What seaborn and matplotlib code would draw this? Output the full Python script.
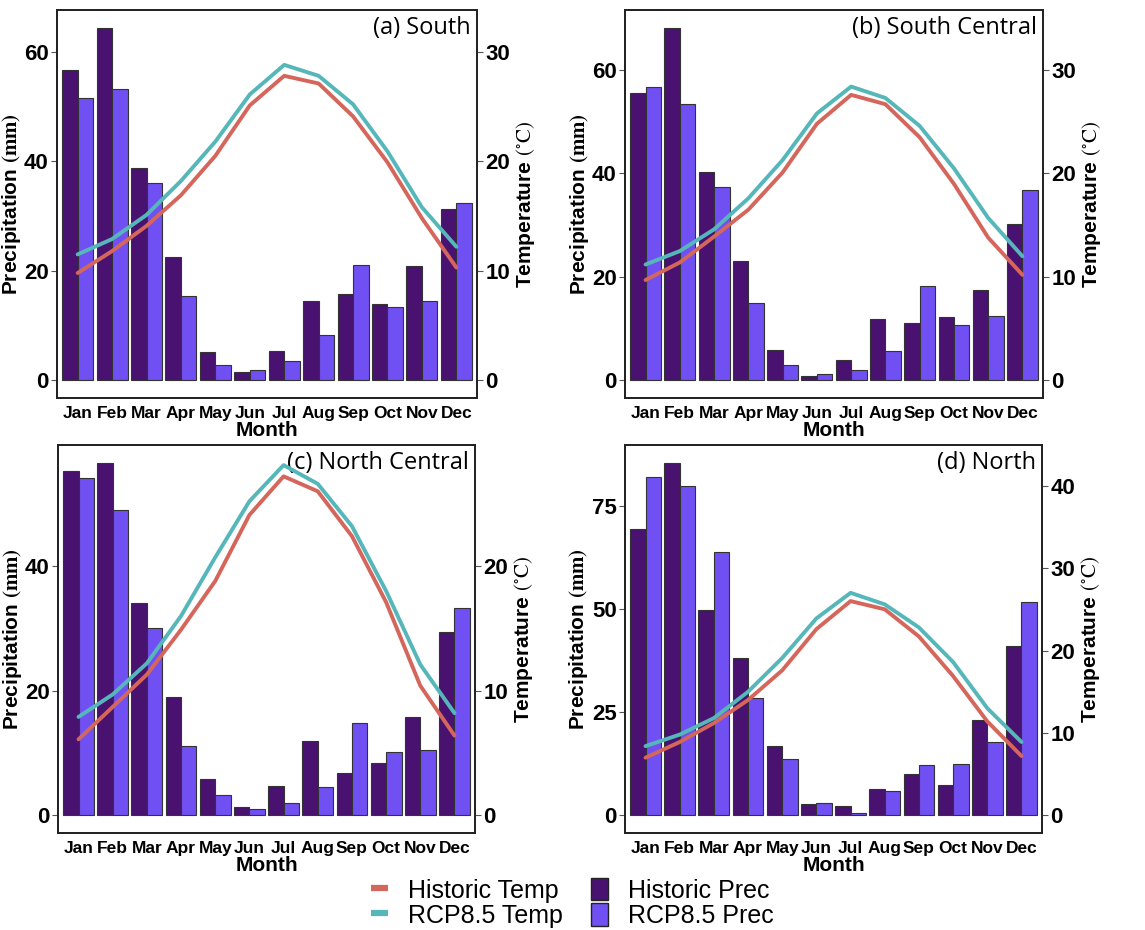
import numpy as np
import pandas as pd
import matplotlib
matplotlib.use("Agg")
import matplotlib.pyplot as plt
import seaborn as sns
from matplotlib.ticker import MultipleLocator
from matplotlib.lines import Line2D
from matplotlib.patches import Patch

# Data
months = ['Jan', 'Feb', 'Mar', 'Apr', 'May', 'Jun', 'Jul', 'Aug', 'Sep', 'Oct', 'Nov', 'Dec']
panel_titles = ['(a) South', '(b) South Central', '(c) North Central', '(d) North']

south_hist_prec = [56.7, 64.4, 38.7, 22.5, 5.15, 1.45, 5.45, 14.4, 15.8, 13.9, 20.8, 31.2]
south_rcp_prec = [51.6, 53.2, 36.1, 15.4, 2.85, 1.95, 3.6, 8.2, 21.0, 13.4, 14.5, 32.4]
south_hist_temp = [9.8, 11.8, 14.1, 16.9, 20.5, 25.1, 27.8, 27.1, 24.1, 19.9, 14.8, 10.3]
south_rcp_temp = [11.5, 12.9, 15.1, 18.2, 21.8, 26.1, 28.8, 27.8, 25.2, 20.9, 15.8, 12.2]

scentral_hist_prec = [55.5, 68.2, 40.3, 23.1, 5.9, 0.9, 4.0, 11.9, 11.1, 12.3, 17.5, 30.2]
scentral_rcp_prec = [56.7, 53.5, 37.4, 15.0, 3.0, 1.15, 2.0, 5.7, 18.3, 10.7, 12.5, 36.8]
scentral_hist_temp = [9.7, 11.4, 13.9, 16.5, 20.1, 24.8, 27.6, 26.7, 23.5, 19.0, 13.8, 10.2]
scentral_rcp_temp = [11.2, 12.5, 14.6, 17.6, 21.3, 25.8, 28.4, 27.3, 24.6, 20.5, 15.7, 12.0]

ncentral_hist_prec = [55.3, 56.6, 34.1, 19.0, 5.9, 1.3, 4.65, 12.0, 6.85, 8.45, 15.8, 29.4]
ncentral_rcp_prec = [54.2, 49.0, 30.1, 11.2, 3.3, 1.1, 2.0, 4.6, 14.8, 10.2, 10.5, 33.2]
ncentral_hist_temp = [6.1, 8.7, 11.3, 14.9, 18.8, 24.1, 27.2, 26.0, 22.4, 17.1, 10.4, 6.4]
ncentral_rcp_temp = [7.9, 9.7, 12.2, 16.0, 20.7, 25.2, 28.1, 26.6, 23.2, 18.0, 12.1, 8.2]

north_hist_prec = [69.4, 85.6, 49.9, 38.1, 16.8, 2.7, 2.35, 6.4, 10.1, 7.4, 23.2, 41.1]
north_rcp_prec = [82.0, 80.0, 64.0, 28.5, 13.6, 2.9, 0.65, 5.8, 12.2, 12.4, 17.8, 51.8]
north_hist_temp = [7.0, 8.9, 11.2, 14.0, 17.6, 22.6, 26.0, 25.0, 21.7, 16.9, 11.4, 7.2]
north_rcp_temp = [8.4, 9.8, 11.8, 15.0, 19.1, 23.9, 27.0, 25.6, 22.8, 18.6, 13.0, 8.9]

prec_steps = [20, 20, 20, 25]
temp_steps = [10, 10, 10, 10]

regions = [
    (south_hist_prec, south_rcp_prec, south_hist_temp, south_rcp_temp),
    (scentral_hist_prec, scentral_rcp_prec, scentral_hist_temp, scentral_rcp_temp),
    (ncentral_hist_prec, ncentral_rcp_prec, ncentral_hist_temp, ncentral_rcp_temp),
    (north_hist_prec, north_rcp_prec, north_hist_temp, north_rcp_temp),
]

# temperature is drawn on a secondary axis scaled as precip = 2 * temp
temp_scale = 2.0

HIST_BAR = '#4A1270'
RCP_BAR = '#7050F2'
HIST_LINE = '#D4665C'
RCP_LINE = '#55B7BA'

sns.set_style("white")
plt.rcParams['font.family'] = ['Liberation Sans', 'DejaVu Sans']
plt.rcParams['mathtext.fontset'] = 'stix'
plt.rcParams['text.color'] = 'black'
plt.rcParams['axes.labelcolor'] = 'black'
plt.rcParams['xtick.color'] = 'black'
plt.rcParams['ytick.color'] = 'black'

fig = plt.figure(figsize=(11.45, 9.3), dpi=100)

# axes rectangles in pixels: left, top, right, bottom
boxes = [(57, 10, 477, 398), (625, 10, 1043, 398),
         (58, 445, 475, 833), (625, 445, 1042, 833)]
W, H = 1145, 930

for i, (hp, rp, ht, rt) in enumerate(regions):
    l, t, r, b = boxes[i]
    ax = fig.add_axes([l / W, 1 - b / H, (r - l) / W, (b - t) / H])

    df = pd.DataFrame({
        'Month': months * 2,
        'Prec': hp + rp,
        'Scenario': ['Historic'] * 12 + ['RCP8.5'] * 12,
    })
    sns.barplot(data=df, x='Month', y='Prec', hue='Scenario', order=months,
                palette={'Historic': HIST_BAR, 'RCP8.5': RCP_BAR},
                width=0.9, saturation=1, edgecolor='#333333', linewidth=0.8,
                legend=False, ax=ax)

    top = max(max(hp), max(rp), temp_scale * max(ht), temp_scale * max(rt))
    ylo, yhi = -0.05 * top, 1.05 * top
    ax.set_ylim(ylo, yhi)
    ax.set_xlim(-0.6, 11.6)
    ax.yaxis.set_major_locator(MultipleLocator(prec_steps[i]))

    ax2 = ax.twinx()
    tdf = pd.DataFrame({
        'x': list(range(12)) * 2,
        'Temp': ht + rt,
        'Scenario': ['Historic'] * 12 + ['RCP8.5'] * 12,
    })
    sns.lineplot(data=tdf, x='x', y='Temp', hue='Scenario',
                 palette={'Historic': HIST_LINE, 'RCP8.5': RCP_LINE},
                 linewidth=2.8, legend=False, ax=ax2)
    ax2.set_ylim(ylo / temp_scale, yhi / temp_scale)
    ax2.set_xlim(-0.6, 11.6)
    ax2.yaxis.set_major_locator(MultipleLocator(temp_steps[i]))

    ax.set_xlabel('Month', fontsize=15, fontweight='bold', labelpad=0)
    ax.set_ylabel(r'Precipitation $\mathbf{(mm)}$', fontsize=15, fontweight='bold', labelpad=1)
    ax2.set_ylabel(r'Temperature $(^{\circ}\mathrm{C})$', fontsize=15, fontweight='bold', labelpad=3)

    for a in (ax, ax2):
        for s in a.spines.values():
            s.set_color('#222222')
            s.set_linewidth(1.3)
        a.tick_params(axis='both', direction='out', length=4, width=0.8,
                      color='#555555', labelcolor='black')
    ax.tick_params(axis='y', labelsize=16, pad=2)
    ax.tick_params(axis='x', labelsize=12.5, pad=2)
    ax2.tick_params(axis='y', labelsize=16, pad=2)
    for lab in ax.get_xticklabels() + ax.get_yticklabels() + ax2.get_yticklabels():
        lab.set_fontweight('bold')

    ax.text(0.985, 0.985, panel_titles[i], transform=ax.transAxes, ha='right', va='top',
            fontsize=17, color='black', family=['Open Sans', 'DejaVu Sans'])

handles = [
    Line2D([0], [0], color=HIST_LINE, lw=4.5, solid_capstyle='butt'),
    Line2D([0], [0], color=RCP_LINE, lw=4.5, solid_capstyle='butt'),
    Patch(facecolor=HIST_BAR, edgecolor='#222222'),
    Patch(facecolor=RCP_BAR, edgecolor='#222222'),
]
labels = ['Historic Temp', 'RCP8.5 Temp', 'Historic Prec', 'RCP8.5 Prec']
fig.legend(handles, labels, loc='center', bbox_to_anchor=(0.5, 0.029), ncol=2,
           frameon=False, fontsize=18, handlelength=0.7, handleheight=1.0,
           labelspacing=0.02, columnspacing=1.1, handletextpad=0.8)

fig.savefig('out.png', dpi=100)
